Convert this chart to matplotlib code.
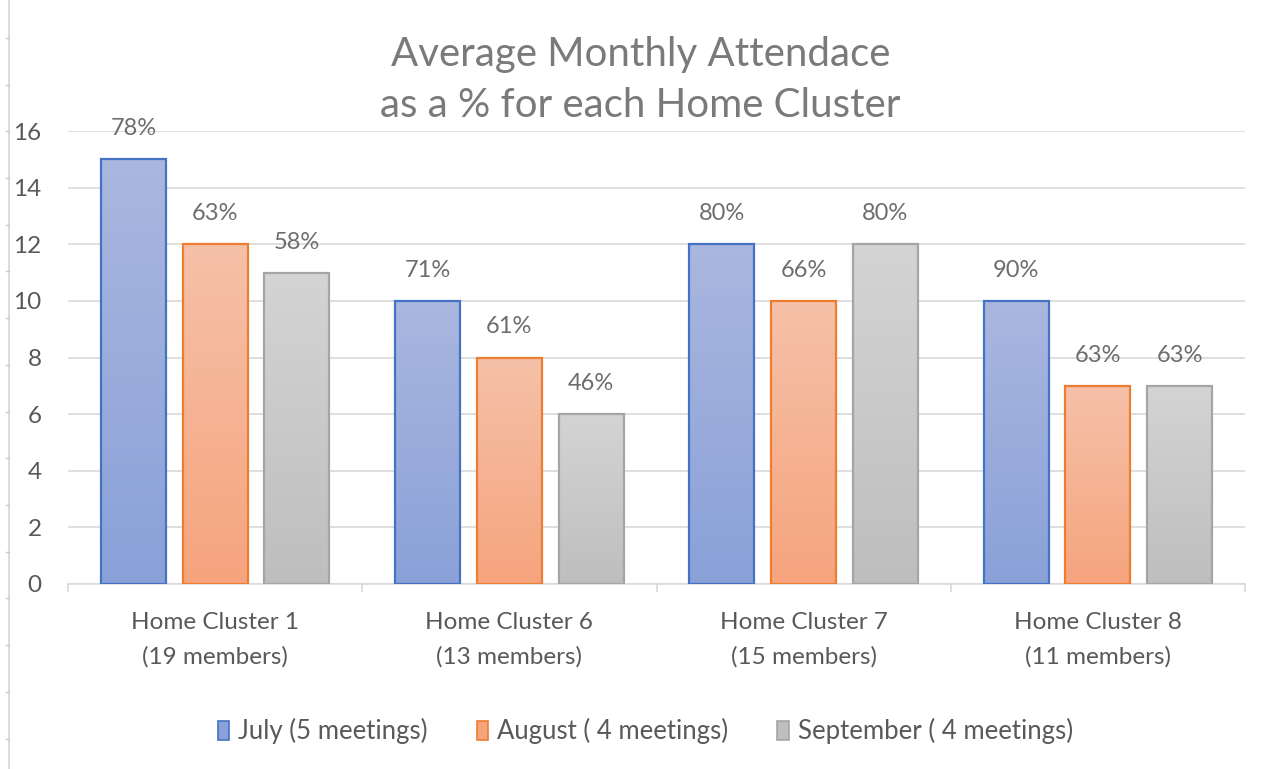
import numpy as np
import matplotlib
matplotlib.use("Agg")
import matplotlib.pyplot as plt
from matplotlib.colors import LinearSegmentedColormap
from matplotlib.lines import Line2D
from matplotlib.patches import Patch

plt.rcParams["font.family"] = ["Lato", "DejaVu Sans"]

# data
clusters = ["Home Cluster 1\n(19 members)", "Home Cluster 6\n(13 members)",
            "Home Cluster 7\n(15 members)", "Home Cluster 8\n(11 members)"]
series_names = ["July (5 meetings)", "August ( 4 meetings)", "September ( 4 meetings)"]
july = [15, 10, 12, 10]
august = [12, 8, 10, 7]
september = [11, 6, 12, 7]
july_pct = ["78%", "71%", "80%", "90%"]
august_pct = ["63%", "61%", "66%", "63%"]
september_pct = ["58%", "46%", "80%", "63%"]
yticks = [0, 2, 4, 6, 8, 10, 12, 14, 16]

values = [july, august, september]
labels = [july_pct, august_pct, september_pct]

# (top colour, bottom colour, edge colour) per series
styles = [("#aab7df", "#8aa1d8", "#4472c4"),
          ("#f5c1a9", "#f6a47d", "#ed7d31"),
          ("#d4d4d4", "#bebebe", "#a5a5a5")]

txt = "#595959"
grid_c = "#d9d9d9"
fs = 17.5

fig = plt.figure(figsize=(12.68, 7.69), dpi=100)
ax = fig.add_axes([68 / 1268, 1 - 584 / 769, (1245 - 68) / 1268, (584 - 131) / 769])

x = np.arange(len(clusters))
width = 0.221
offsets = [-0.278, 0.0, 0.278]

grad = np.linspace(0, 1, 256).reshape(-1, 1)
for vals, labs, off, (top, bot, edge) in zip(values, labels, offsets, styles):
    cmap = LinearSegmentedColormap.from_list("g", [bot, top])
    for xi, v, lab in zip(x, vals, labs):
        left = xi + off - width / 2
        ax.imshow(grad, cmap=cmap, origin="lower", aspect="auto",
                  extent=(left, left + width, 0, v), zorder=2)
        ax.bar(xi + off, v, width=width, facecolor="none", edgecolor=edge,
               linewidth=1.6, zorder=3)
        ax.annotate(lab, (xi + off, v), xytext=(0, 22), textcoords="offset points",
                    ha="center", va="center", fontsize=fs - 0.5, color="#6d6d6d")

ax.set_xlim(-0.5, len(clusters) - 0.5)
ax.set_ylim(0, 16)

ax.set_yticks(yticks)
ax.set_yticklabels([str(t) for t in yticks], fontsize=fs, color=txt)
ax.tick_params(axis="y", length=0, pad=19)
ax.yaxis.grid(True, color=grid_c, linewidth=1.2)
ax.set_axisbelow(True)

ax.set_xticks(x)
ax.set_xticklabels(clusters, fontsize=fs, color=txt, linespacing=1.75)
ax.tick_params(axis="x", length=0, pad=20)
ax.set_xticks(np.arange(-0.5, len(clusters), 1.0), minor=True)
ax.tick_params(axis="x", which="minor", length=6, color=grid_c, width=1.2)

for s in ["top", "right", "left"]:
    ax.spines[s].set_visible(False)
ax.spines["bottom"].set_color(grid_c)
ax.spines["bottom"].set_linewidth(1.2)

fig.text(0.505, 1 - 80 / 769, "Average Monthly Attendace\nas a % for each Home Cluster",
         ha="center", va="center", fontsize=29, color="#7a7a7a", linespacing=1.48)

handles = [Patch(facecolor=s[1], edgecolor=s[2], linewidth=1.2) for s in styles]
fig.legend(handles, series_names, loc="center", bbox_to_anchor=(0.509, 1 - 731 / 769),
           ncol=3, frameon=False, fontsize=18.5, labelcolor=txt,
           handlelength=0.45, handleheight=0.75, handletextpad=0.35, columnspacing=1.9)

# faint ruler line at the left edge
fig.add_artist(Line2D([9 / 1268, 9 / 1268], [0, 1], color="#d6d6d6", linewidth=1.2))
for yp in np.arange(38, 769, 46.7):
    fig.add_artist(Line2D([6 / 1268, 9 / 1268], [1 - yp / 769] * 2, color="#c8c8c8", linewidth=1.0))

fig.savefig("out.png", dpi=100)
